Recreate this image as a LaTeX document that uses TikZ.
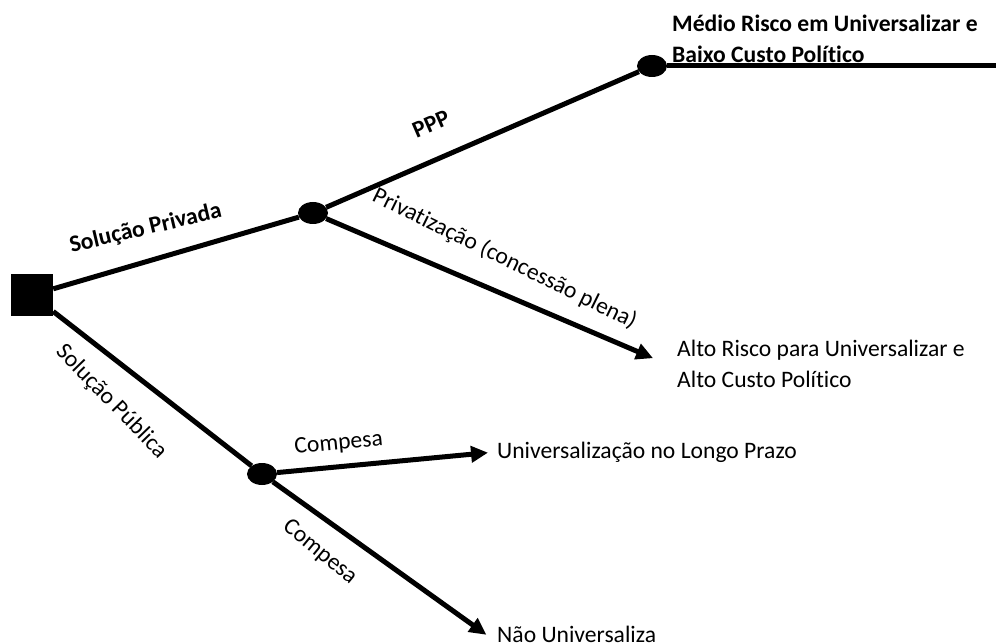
\documentclass[tikz,border=0pt]{standalone}
\usepackage{fontspec}
\setmainfont{Carlito}[Ligatures=NoCommon]
\usetikzlibrary{shapes.geometric,arrows.meta}

\begin{document}
\begin{tikzpicture}[x=1pt,y=-1pt,
	branch/.style={line width=5pt},
	arr/.style={line width=5pt,-{Triangle[length=17pt,width=16pt]}},
	chance/.style={ellipse,fill=black,minimum width=30pt,minimum height=22pt,inner sep=0pt},
	decision/.style={rectangle,fill=black,minimum size=42pt,inner sep=0pt},
	txt/.style={inner sep=0pt,align=left,font=\fontsize{23.6}{31}\selectfont},
	lbl/.style={sloped,inner sep=0pt,font=\fontsize{23.6}{31}\selectfont},
	bold/.style={font=\fontsize{23.6}{31}\selectfont\bfseries}]
	\useasboundingbox (0,0) rectangle (996,644);
	
	%%nodes
	\node[decision] (dec) at (32,295) {};
	\node[chance] (priv) at (313,213) {};
	\node[chance] (ppp) at (652,66) {};
	\node[chance] (pub) at (262,474) {};
	\coordinate (fim) at (996,66);
	
	% base = last line
	\node[txt,bold,anchor=base west] (medio) at (672,63) {Médio Risco em Universalizar e\\Baixo Custo Político};
	\node[txt,anchor=base west] (alto) at (677,387) {Alto Risco para Universalizar e\\Alto Custo Político};
	\node[txt,anchor=base west] (longo) at (497,458) {Universalização no Longo Prazo};
	\node[txt,anchor=base west] (nao) at (497,642) {Não Universaliza};
	
	%%branches
	\draw[branch] (dec) -- node[lbl,bold,pos=0.41,above=19pt,rotate=-3] {Solução Privada} (priv);
	\draw[branch] (dec) -- node[lbl,pos=0.41,below=23pt,rotate=-8] {Solução Pública} (pub);
	\draw[branch] (priv) -- node[lbl,bold,pos=0.38,above=25pt] {PPP} (ppp);
	\draw[branch] (ppp) -- (fim);
	\draw[arr,shorten >=26pt] (priv) -- node[lbl,pos=0.47,above=20pt,rotate=-3] {Privatização (concessão plena)} ([yshift=-5pt]alto.west);
	\draw[arr,shorten >=9pt] (pub) -- node[lbl,pos=0.29,above=11pt] {Compesa} (longo.west);
	\draw[arr,shorten >=13pt] (pub) -- node[lbl,pos=0.29,below=18pt,rotate=-4] {Compesa} (nao.south west);
\end{tikzpicture}
\end{document}
